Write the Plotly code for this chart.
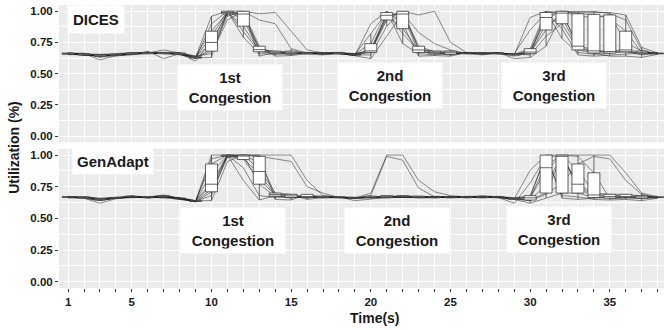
"""Utilization per run over time, DICES vs GenAdapt (boxplot + run lines)."""

import plotly.graph_objects as go

TIME = list(range(1, 39))
X_LABELED = [1, 5, 10, 15, 20, 25, 30, 35]
Y_TICKS = [0.0, 0.25, 0.5, 0.75, 1.0]
Y_TICK_TEXT = ["0.00", "0.25", "0.50", "0.75", "1.00"]
Y_MINOR = [0.125, 0.375, 0.625, 0.875]
PANEL_NAMES = ["DICES", "GenAdapt"]
CONGESTION_NAMES = ["1st", "2nd", "3rd"]

# one list per run, t = 1..38
DICES_RUNS = [
    [0.66, 0.65, 0.64, 0.65, 0.66, 0.67, 0.66, 0.66, 0.63,
     0.96, 1.0, 0.79, 0.66, 0.655, 0.66,
     0.665, 0.66, 0.67, 0.65,
     0.68, 0.96, 0.99, 0.70, 0.67, 0.66,
     0.665, 0.66, 0.67, 0.65,
     0.95, 1.0, 0.78, 0.67, 0.655, 0.665, 0.675, 0.66,
     0.66],
    [0.665, 0.66, 0.61, 0.645, 0.655, 0.665, 0.69, 0.665, 0.62,
     0.90, 1.0, 0.84, 0.675, 0.67, 0.65,
     0.67, 0.655, 0.66, 0.645,
     0.90, 1.0, 0.74, 0.66, 0.65, 0.67,
     0.66, 0.665, 0.66, 0.66,
     0.66, 0.90, 0.95, 0.70, 0.675, 0.67, 0.68, 0.65,
     0.665],
    [0.655, 0.655, 0.645, 0.655, 0.665, 0.66, 0.665, 0.67, 0.64,
     0.84, 0.99, 0.88, 0.68, 0.66, 0.67,
     0.66, 0.665, 0.665, 0.66,
     0.675, 0.93, 1.0, 0.97, 1.0, 0.75,
     0.67, 0.655, 0.665, 0.64,
     0.665, 0.96, 1.0, 0.99, 1.0, 0.98, 0.93, 0.69,
     0.655],
    [0.67, 0.65, 0.65, 0.64, 0.66, 0.67, 0.66, 0.655, 0.63,
     0.80, 1.0, 0.93, 0.69, 0.675, 0.66,
     0.665, 0.67, 0.66, 0.655,
     0.82, 0.99, 0.82, 0.68, 0.665, 0.655,
     0.665, 0.67, 0.66, 0.66,
     0.85, 0.99, 0.86, 0.65, 0.64, 0.65, 0.66, 0.665,
     0.67],
    [0.66, 0.665, 0.63, 0.65, 0.65, 0.68, 0.62, 0.66, 0.60,
     0.76, 0.985, 0.97, 0.70, 0.665, 0.665,
     0.66, 0.65, 0.665, 0.64,
     0.62, 0.80, 0.985, 0.83, 0.74, 0.69,
     0.66, 0.65, 0.67, 0.62,
     0.63, 0.72, 0.98, 0.73, 0.685, 0.68, 0.695, 0.67,
     0.66],
    [0.66, 0.655, 0.655, 0.66, 0.67, 0.665, 0.67, 0.665, 0.635,
     0.74, 0.99, 0.985, 0.695, 0.68, 0.67,
     0.67, 0.665, 0.67, 0.65,
     0.70, 0.975, 0.86, 0.685, 0.66, 0.65,
     0.665, 0.66, 0.665, 0.655,
     0.675, 0.94, 1.0, 0.96, 0.95, 0.97, 0.75, 0.68,
     0.66],
    [0.65, 0.66, 0.64, 0.65, 0.66, 0.66, 0.665, 0.65, 0.625,
     0.70, 0.98, 0.99, 0.72, 0.64, 0.645,
     0.66, 0.66, 0.66, 0.65,
     0.65, 0.88, 1.0, 0.72, 0.675, 0.67,
     0.66, 0.665, 0.665, 0.66,
     0.65, 0.80, 0.90, 0.69, 0.665, 0.64, 0.64, 0.63,
     0.655],
    [0.665, 0.645, 0.65, 0.655, 0.665, 0.67, 0.665, 0.66, 0.63,
     0.68, 0.96, 1.0, 0.64, 0.67, 0.68,
     0.665, 0.66, 0.665, 0.655,
     0.74, 1.0, 0.90, 0.64, 0.645, 0.64,
     0.67, 0.66, 0.66, 0.655,
     0.70, 1.0, 0.99, 1.0, 0.99, 0.99, 0.97, 0.71,
     0.665],
    [0.66, 0.66, 0.645, 0.65, 0.66, 0.665, 0.66, 0.66, 0.64,
     0.66, 0.93, 1.0, 0.93, 0.90, 0.70,
     0.665, 0.66, 0.67, 0.66,
     0.685, 0.945, 1.0, 0.695, 0.68, 0.68,
     0.665, 0.66, 0.665, 0.65,
     0.67, 0.85, 1.0, 0.71, 0.68, 0.675, 0.685, 0.66,
     0.66],
    [0.655, 0.65, 0.64, 0.645, 0.655, 0.66, 0.67, 0.655, 0.625,
     0.63, 1.0, 1.0, 0.98, 0.99, 0.84,
     0.69, 0.665, 0.66, 0.65,
     0.67, 0.985, 0.97, 0.67, 0.67, 0.665,
     0.66, 0.665, 0.66, 0.655,
     0.68, 0.98, 1.0, 0.98, 0.975, 0.94, 0.84, 0.67,
     0.66],
]

GENADAPT_RUNS = [
    [0.67, 0.665, 0.65, 0.66, 0.675, 0.665, 0.68, 0.66, 0.635,
     1.0, 1.0, 0.80, 0.645, 0.68, 0.67, 0.665,
     0.67, 0.665, 0.66,
     0.665, 0.67, 0.675, 0.67, 0.665, 0.67,
     0.67, 0.675, 0.665, 0.655,
     0.88, 1.0, 0.66, 0.65, 0.66, 0.665, 0.67, 0.66,
     0.67],
    [0.675, 0.66, 0.62, 0.655, 0.67, 0.67, 0.685, 0.655, 0.63,
     0.97, 1.0, 0.90, 0.68, 0.665, 0.675, 0.67,
     0.665, 0.67, 0.655,
     0.67, 0.665, 0.67, 0.675, 0.67, 0.665,
     0.675, 0.67, 0.67, 0.65,
     0.65, 0.76, 1.0, 0.74, 0.67, 0.66, 0.665, 0.655,
     0.665],
    [0.665, 0.67, 0.655, 0.665, 0.68, 0.66, 0.675, 0.65, 0.64,
     0.93, 1.0, 1.0, 0.77, 0.675, 0.66, 0.68,
     0.67, 0.665, 0.665,
     0.665, 0.68, 0.665, 0.67, 0.675, 0.67,
     0.665, 0.68, 0.67, 0.66,
     0.665, 0.92, 1.0, 1.0, 1.0, 1.0, 0.86, 0.70,
     0.67],
    [0.67, 0.665, 0.64, 0.66, 0.67, 0.665, 0.67, 0.655, 0.635,
     0.86, 0.995, 0.965, 0.80, 0.69, 0.68, 0.66,
     0.675, 0.665, 0.66,
     0.70, 1.0, 1.0, 0.80, 0.71, 0.68,
     0.67, 0.665, 0.67, 0.655,
     0.64, 0.69, 0.78, 0.93, 0.99, 0.97, 0.80, 0.69,
     0.665],
    [0.66, 0.67, 0.66, 0.665, 0.665, 0.67, 0.66, 0.665, 0.64,
     0.78, 1.0, 0.975, 0.85, 0.685, 0.665, 0.675,
     0.66, 0.67, 0.64,
     0.655, 0.665, 0.67, 0.66, 0.665, 0.675,
     0.66, 0.67, 0.665, 0.62,
     0.78, 0.99, 0.68, 0.67, 0.65, 0.645, 0.65, 0.64,
     0.66],
    [0.67, 0.665, 0.645, 0.66, 0.675, 0.665, 0.68, 0.66, 0.64,
     0.76, 0.99, 1.0, 0.89, 0.70, 0.69, 0.67,
     0.67, 0.67, 0.665,
     0.675, 0.67, 0.68, 0.67, 0.665, 0.67,
     0.67, 0.665, 0.675, 0.66,
     0.66, 0.88, 1.0, 0.76, 0.68, 0.675, 0.68, 0.67,
     0.675],
    [0.665, 0.66, 0.65, 0.66, 0.67, 0.67, 0.675, 0.655, 0.635,
     0.73, 1.0, 0.99, 0.95, 0.695, 0.685, 0.65,
     0.665, 0.66, 0.66,
     0.68, 0.99, 0.96, 0.74, 0.67, 0.665,
     0.665, 0.67, 0.66, 0.65,
     0.62, 0.66, 0.70, 0.70, 0.665, 0.67, 0.67, 0.665,
     0.66],
    [0.67, 0.67, 0.655, 0.665, 0.67, 0.66, 0.67, 0.66, 0.63,
     0.71, 0.98, 1.0, 0.99, 0.97, 0.95, 0.75,
     0.70, 0.665, 0.66,
     0.67, 0.66, 0.67, 0.665, 0.67, 0.665,
     0.67, 0.665, 0.67, 0.655,
     0.67, 1.0, 1.0, 0.88, 0.70, 0.69, 0.69, 0.675,
     0.67],
    [0.665, 0.665, 0.65, 0.655, 0.665, 0.67, 0.665, 0.65, 0.635,
     0.68, 1.0, 1.0, 1.0, 1.0, 1.0, 0.80,
     0.68, 0.67, 0.665,
     0.665, 0.67, 0.665, 0.67, 0.66, 0.67,
     0.665, 0.67, 0.665, 0.66,
     0.68, 1.0, 0.98, 0.78, 0.69, 0.68, 0.675, 0.68,
     0.665],
    [0.67, 0.66, 0.645, 0.66, 0.67, 0.665, 0.67, 0.66, 0.64,
     0.64, 0.95, 1.0, 1.0, 0.65, 0.645, 0.69,
     0.665, 0.67, 0.66,
     0.66, 0.665, 0.67, 0.665, 0.67, 0.66,
     0.67, 0.66, 0.67, 0.65,
     0.645, 0.70, 1.0, 0.99, 0.86, 0.655, 0.66, 0.67,
     0.67],
]

FONT = "Liberation Sans, Arial, sans-serif"
INK = "#1a1a1a"
PANEL_BG = "#EBEBEB"

fig = go.Figure()

# lines on the base axes, boxes on an overlaying axis so they sit on top
panels = [
    (DICES_RUNS, "x", "y", "y3"),
    (GENADAPT_RUNS, "x2", "y2", "y4"),
]
for runs, xa, ya, ya_box in panels:
    for run in runs:
        fig.add_trace(go.Scatter(
            x=TIME, y=run, mode="lines",
            line=dict(color="rgba(25,25,25,0.7)", width=0.7),
            xaxis=xa, yaxis=ya, showlegend=False, hoverinfo="skip",
        ))
    fig.add_trace(go.Box(
        x=[t for run in runs for t in TIME],
        y=[v for run in runs for v in run],
        xaxis=xa, yaxis=ya_box,
        fillcolor="white", line=dict(color="#3a3a3a", width=0.8),
        width=0.75, whiskerwidth=0, quartilemethod="linear",
        boxpoints="outliers", marker=dict(opacity=0, size=1),
        showlegend=False,
    ))

tick_text = [str(t) if t in X_LABELED else "" for t in TIME]
x_common = dict(
    range=[0.43, 38.4], tickvals=TIME, ticktext=tick_text, automargin=False,
    showgrid=True, gridcolor="white", gridwidth=1, zeroline=False,
)
y_common = dict(
    range=[-0.05, 1.05], tickvals=Y_TICKS, ticktext=Y_TICK_TEXT, automargin=False,
    showgrid=True, gridcolor="white", gridwidth=1.1, zeroline=False,
    ticks="outside", ticklen=3, tickcolor="#333333", tickwidth=1,
    tickfont=dict(family=FONT, size=11.5, color=INK, weight="bold"),
    minor=dict(tickvals=Y_MINOR, showgrid=True, gridcolor="white",
               gridwidth=0.5, ticks=""),
)
y_overlay = dict(range=[-0.05, 1.05], visible=False, showgrid=False, automargin=False)

fig.update_layout(
    width=664, height=330,
    margin=dict(l=59, r=0, t=5, b=42, autoexpand=False),
    paper_bgcolor="white", plot_bgcolor=PANEL_BG,
    showlegend=False,
    xaxis=dict(anchor="y", matches="x2", showticklabels=False, ticks="", **x_common),
    xaxis2=dict(anchor="y2", ticks="outside", ticklen=3, tickcolor="#333333", tickwidth=1,
                tickfont=dict(family=FONT, size=11.5, color=INK, weight="bold"), **x_common),
    yaxis=dict(domain=[0.515, 1.0], anchor="x", **y_common),
    yaxis2=dict(domain=[0.0, 0.492], anchor="x2", **y_common),
    yaxis3=dict(overlaying="y", anchor="x", **y_overlay),
    yaxis4=dict(overlaying="y2", anchor="x2", **y_overlay),
)

# panel labels
label_font = dict(family=FONT, size=15, color=INK, weight="bold")
fig.add_annotation(text=PANEL_NAMES[0], x=2.76, y=0.937, xref="x", yref="y",
                   showarrow=False, bgcolor="white", borderpad=5, font=label_font)
fig.add_annotation(text=PANEL_NAMES[1], x=3.79, y=0.953, xref="x2", yref="y2",
                   showarrow=False, bgcolor="white", borderpad=4, font=label_font)

# congestion labels
cong_pos = [
    ("x", "y", [(11.16, 0.39), (21.23, 0.406), (31.52, 0.406)]),
    ("x2", "y2", [(11.35, 0.404), (21.67, 0.404), (31.8, 0.416)]),
]
for xr, yr, spots in cong_pos:
    for name, (cx, cy) in zip(CONGESTION_NAMES, spots):
        fig.add_annotation(text=f"{name}<br>Congestion", x=cx, y=cy, xref=xr, yref=yr,
                           showarrow=False, bgcolor="white", borderpad=4, width=96,
                           font=label_font)

# axis titles
title_font = dict(family=FONT, size=14, color=INK, weight="bold")
fig.add_annotation(text="Utilization (%)", x=-0.0744, y=0.499, xref="paper", yref="paper",
                   xanchor="center", yanchor="middle",
                   textangle=-90, showarrow=False, font=title_font)
fig.add_annotation(text="Time(s)", x=0.522, y=-0.106, xref="paper", yref="paper",
                   xanchor="center", yanchor="middle",
                   showarrow=False, font=title_font)

# page body has a default 8px margin; drop it so the figure sits at 0,0
fig.write_html("out.html", config={"displayModeBar": False},
               post_script="document.body.style.margin='0px';")
